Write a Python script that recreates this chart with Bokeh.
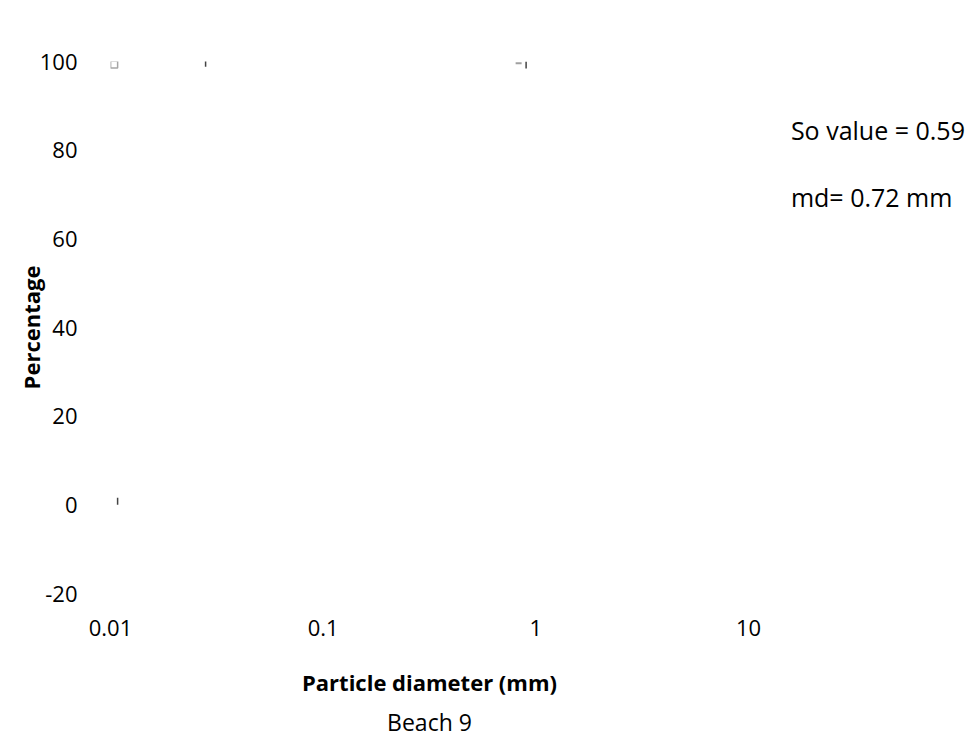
from bokeh.plotting import figure
from bokeh.layouts import row
from bokeh.models import FixedTicker
from bokeh.core.properties import value
from bokeh.embed import file_html
from bokeh.resources import INLINE

# Axis ticks
x_ticks = [0.01, 0.1, 1, 10]
x_tick_labels = ["0.01", "0.1", "1", "10"]
y_ticks = [-20, 0, 20, 40, 60, 80, 100]
y_tick_labels = ["-20", "0", "20", "40", "60", "80", "100"]

# Sorting statistics for the sample
so_value = 0.59
median_mm = 0.72
stat_text = [f"So value = {so_value}", f"md= {median_mm} mm"]
stat_y = [84.5, 69.5]

# Remnant marker fragments of the cumulative curve
square_x = [0.0104]
square_y = [99.3]
stub_x = [0.028, 0.9, 0.0108]
stub_y = [99.6, 99.2, 0.8]
dash_x = [0.83, 0.0095]
dash_y = [99.6, 1.0]

FONT = "Open Sans"

p = figure(
    width=770, height=747,
    x_axis_type="log",
    x_range=(0.01, 10), y_range=(-20, 100),
    output_backend="svg", toolbar_location=None,
    min_border_left=110, min_border_right=22,
    min_border_top=61, min_border_bottom=154,
    title="Beach 9", title_location="below",
)
p.outline_line_color = None
p.grid.visible = False

for ax in (p.xaxis, p.yaxis):
    ax.axis_line_color = None
    ax.major_tick_line_color = None
    ax.minor_tick_line_color = None
    ax.major_label_text_font = FONT
    ax.major_label_text_font_size = "22px"
    ax.major_label_text_color = "black"
    ax.axis_label_text_font = FONT
    ax.axis_label_text_font_size = "22px"
    ax.axis_label_text_font_style = "bold"
    ax.axis_label_text_color = "black"

p.xaxis.ticker = FixedTicker(ticks=x_ticks)
p.xaxis.major_label_overrides = dict(zip(x_ticks, x_tick_labels))
p.xaxis.major_label_standoff = 20
p.xaxis.axis_label = "Particle diameter (mm)"
p.xaxis.axis_label_standoff = 28

p.yaxis.ticker = FixedTicker(ticks=y_ticks)
p.yaxis.major_label_overrides = dict(zip(y_ticks, y_tick_labels))
p.yaxis.major_label_standoff = 27
p.yaxis.axis_label = "Percentage"
p.yaxis.axis_label_standoff = -9

p.title.text_font = FONT
p.title.text_font_size = "23px"
p.title.text_font_style = "normal"
p.title.text_color = "black"
p.title.align = "center"
p.title.standoff = 8

p.scatter(square_x, square_y, marker="square", size=7,
          fill_color=None, line_color="#a6a6a6", line_width=1.5)
p.scatter(stub_x, stub_y, marker="dash", angle=1.5708, size=7,
          line_color="#444444", line_width=1.5)
p.scatter(dash_x, dash_y, marker="dash", size=6,
          line_color="#a0a0a0", line_width=2)

# Side panel carrying the sorting statistics
s = figure(
    width=204, height=747,
    x_range=(0, 1), y_range=(-20, 100),
    output_backend="svg", toolbar_location=None,
    min_border_left=0, min_border_right=0,
    min_border_top=61, min_border_bottom=154,
)
s.outline_line_color = None
s.grid.visible = False
s.axis.visible = False
s.text(x=[0.1] * len(stat_text), y=stat_y, text=stat_text,
       text_font=value(FONT), text_font_size="25px", text_color="black",
       text_baseline="middle", text_align="left")

layout = row(p, s, spacing=0)
open("out.html", "w").write(file_html(layout, INLINE))
